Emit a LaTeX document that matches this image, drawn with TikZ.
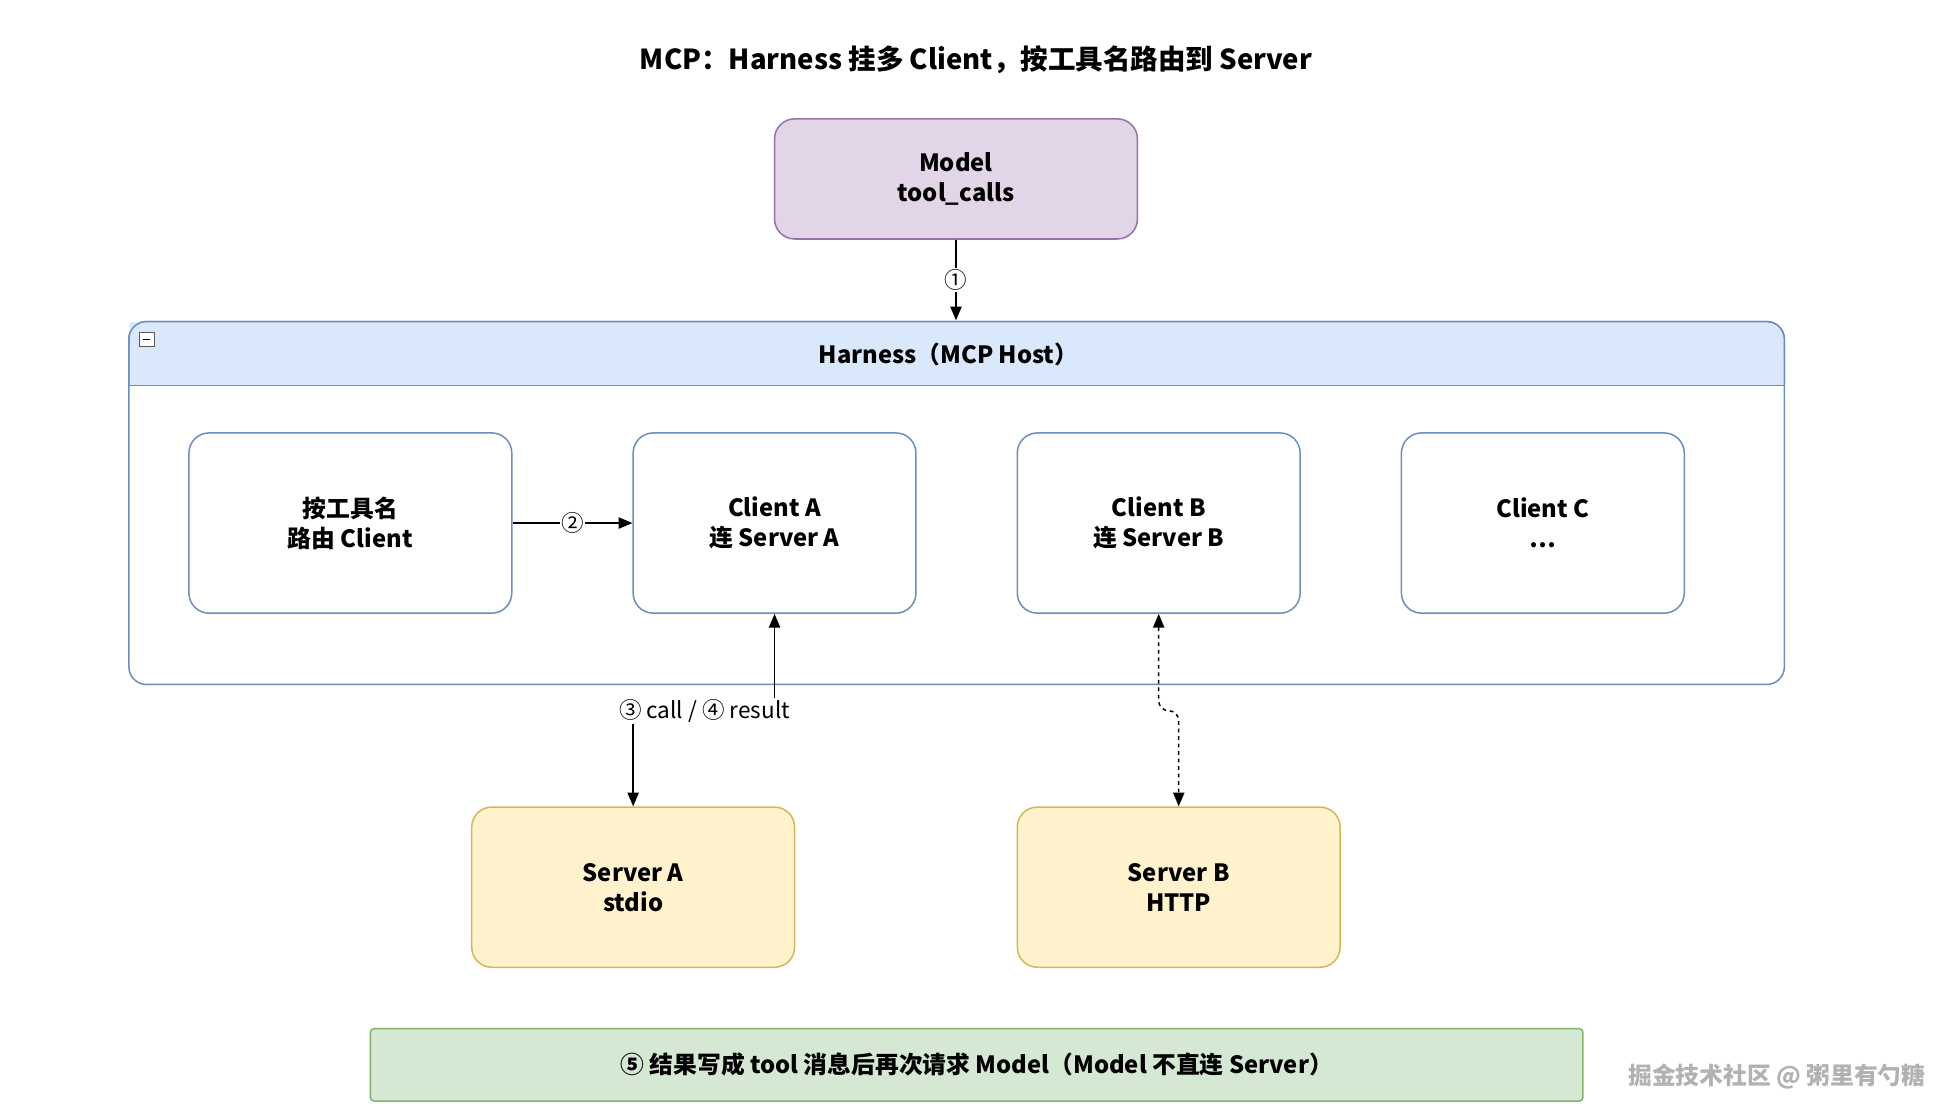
\documentclass[tikz,border=0pt]{standalone}
\usepackage{fontspec}
\setmainfont{Noto Sans CJK SC}
\usetikzlibrary{arrows.meta}
\definecolor{mfill}{HTML}{E1D5E7}\definecolor{mline}{HTML}{9673A6}
\definecolor{bfill}{HTML}{DAE8FC}\definecolor{bline}{HTML}{6C8EBF}
\definecolor{yfill}{HTML}{FFF2CC}\definecolor{yline}{HTML}{D6B656}
\definecolor{gfill}{HTML}{D5E8D4}\definecolor{gline}{HTML}{82B366}
\begin{document}
\begin{tikzpicture}[x=1pt,y=-1pt,>={Triangle[length=11pt,width=9pt]},
  box/.style={draw=#1,line width=1.2pt,rounded corners=16pt,align=center,font=\fontsize{19}{24}\selectfont\bfseries,inner sep=0pt},
  arr/.style={->,line width=1.2pt},
  lab/.style={fill=white,inner sep=1pt,font=\fontsize{18}{20}\selectfont}]
\useasboundingbox (0,0) rectangle (1552,886);
\node[font=\fontsize{22}{26}\selectfont\bfseries] (title) at (780,48) {MCP：Harness 挂多 Client，按工具名路由到 Server};
% container
\draw[bline,line width=1.2pt,fill=white,rounded corners=14pt] (103,257) rectangle (1426,547);
\fill[bfill,rounded corners=14pt] (103.5,257.5) -- (1425.5,257.5) -- (1425.5,308) [sharp corners]-- (103.5,308) -- cycle;
\fill[bfill] (103.5,285) rectangle (1425.5,308);
\draw[bline,line width=1.2pt,rounded corners=14pt] (103,308) -- (103,257) -- (1426,257) -- (1426,308);
\draw[bline,line width=1.2pt] (103,308) -- (1426,308);
\node[font=\fontsize{19}{24}\selectfont\bfseries] (hdr) at (758,283) {Harness（MCP Host）};
\draw[gray!70!black,fill=white,line width=0.6pt] (111,266) rectangle (123,277);
\draw[black,line width=0.8pt] (114,271.5) -- (120,271.5);
% nodes
\node[box=mline,fill=mfill,minimum width=290pt,minimum height=96pt] (model) at (764,143) {Model\\tool\_calls};
\node[box=bline,fill=white,minimum width=258pt,minimum height=144pt] (router) at (280,418) {按工具名\\路由 Client};
\node[box=bline,fill=white,minimum width=226pt,minimum height=144pt] (ca) at (619,418) {Client A\\连 Server A};
\node[box=bline,fill=white,minimum width=226pt,minimum height=144pt] (cb) at (926,418) {Client B\\连 Server B};
\node[box=bline,fill=white,minimum width=226pt,minimum height=144pt] (cc) at (1233,418) {Client C\\…};
\node[box=yline,fill=yfill,minimum width=258pt,minimum height=128pt] (sa) at (506,709) {Server A\\stdio};
\node[box=yline,fill=yfill,minimum width=258pt,minimum height=128pt] (sb) at (942,709) {Server B\\HTTP};
\node[draw=gline,fill=gfill,line width=1.2pt,rounded corners=3pt,minimum width=969pt,minimum height=58pt,font=\fontsize{19}{24}\selectfont\bfseries] (note) at (780.5,851) {⑤ 结果写成 tool 消息后再次请求 Model（Model 不直连 Server）};
\node[text=gray!60,font=\fontsize{19}{22}\selectfont\bfseries] (wm) at (1420,860) {掘金技术社区 @ 粥里有勺糖};
% edges
\draw[arr] (model.south) -- node[lab]{①} (764,256);
\draw[arr] (router.east) -- node[lab]{②} (ca.west);
\coordinate (m1) at (619,568);
\draw[line width=1.2pt,<->] (ca.south) -- (m1) -| (sa.north);
\node[lab] (l3) at (563,568) {③ call / ④ result};
\draw[line width=1.2pt,<->,dashed,rounded corners=8pt] (cb.south) -- (926,568) -- (942,568) -- (sb.north);
\end{tikzpicture}
\end{document}
